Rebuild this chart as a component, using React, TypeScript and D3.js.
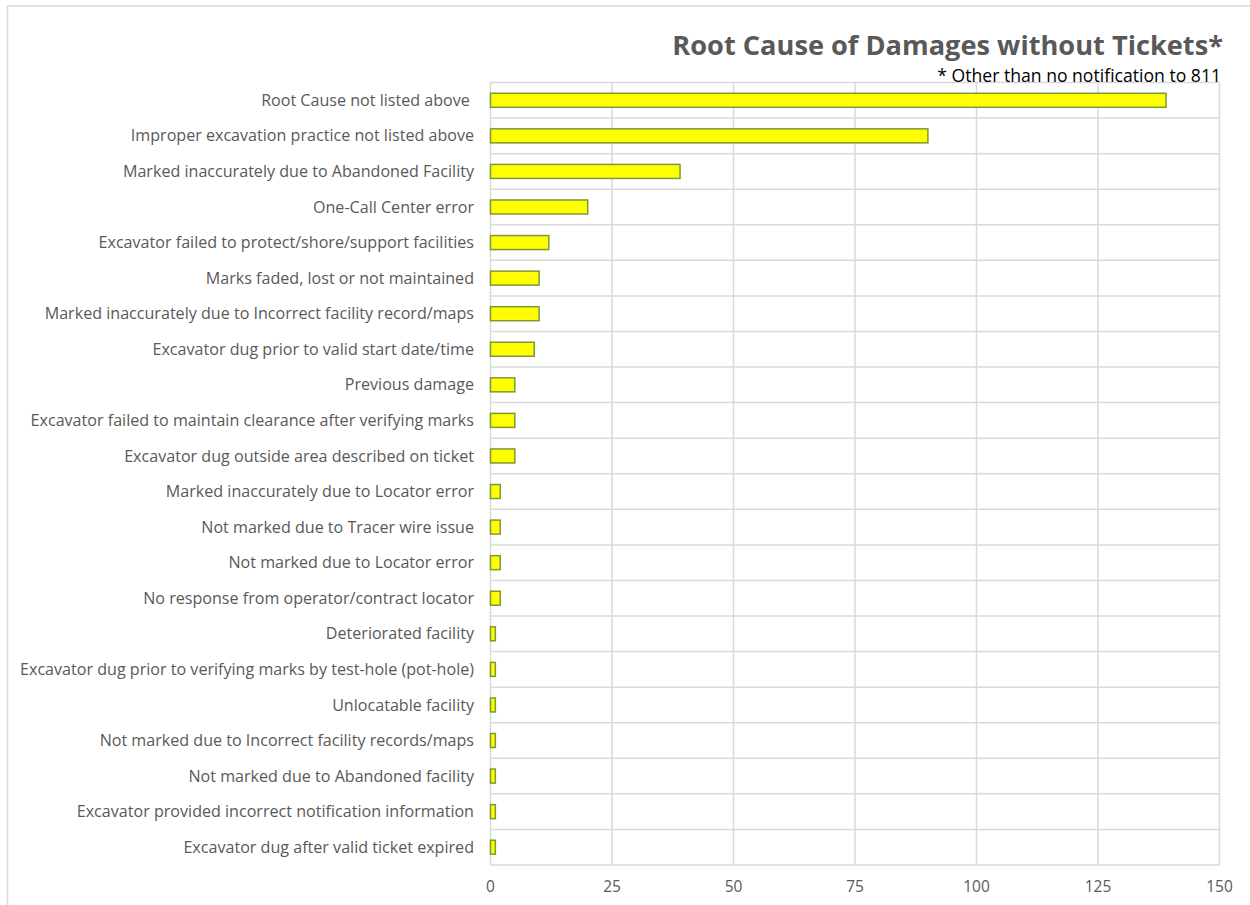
import React from "react";
import * as d3 from "d3";

const categories: string[] = [
  "Root Cause not listed above ",
  "Improper excavation practice not listed above",
  "Marked inaccurately due to Abandoned Facility",
  "One-Call Center error",
  "Excavator failed to protect/shore/support facilities",
  "Marks faded, lost or not maintained",
  "Marked inaccurately due to Incorrect facility record/maps",
  "Excavator dug prior to valid start date/time",
  "Previous damage",
  "Excavator failed to maintain clearance after verifying marks",
  "Excavator dug outside area described on ticket",
  "Marked inaccurately due to Locator error",
  "Not marked due to Tracer wire issue",
  "Not marked due to Locator error",
  "No response from operator/contract locator",
  "Deteriorated facility",
  "Excavator dug prior to verifying marks by test-hole (pot-hole)",
  "Unlocatable facility",
  "Not marked due to Incorrect facility records/maps",
  "Not marked due to Abandoned facility",
  "Excavator provided incorrect notification information",
  "Excavator dug after valid ticket expired",
];

const values: number[] = [139, 90, 39, 20, 12, 10, 10, 9, 5, 5, 5, 2, 2, 2, 2, 1, 1, 1, 1, 1, 1, 1];

const xTicks: number[] = [0, 25, 50, 75, 100, 125, 150];

const title = "Root Cause of Damages without Tickets*";
const subtitle = "* Other than no notification to 811";

export default function App() {
  const W = 1250;
  const H = 905;
  const left = 490.5;
  const right = 1219.5;
  const top = 82.5;
  const bottom = 865;

  const x = d3.scaleLinear().domain([0, 150]).range([left, right]);
  const y = d3.scaleBand<string>().domain(categories).range([top, bottom]).paddingInner(0).paddingOuter(0);
  const bw = y.bandwidth();
  const barH = 14;
  const font = "'Open Sans', sans-serif";
  const grid = "#d9d9d9";
  const textCol = "#595959";

  const boundaries = d3.range(categories.length + 1).map((i) => top + i * bw);

  return (
    <svg
      width={W}
      height={H}
      style={{ position: "absolute", left: 0, top: 0, display: "block" }}
      fontFamily={font}
    >
      <rect x={0} y={0} width={W} height={H} fill="#ffffff" />
      <rect x={7.5} y={6} width={W} height={H} fill="none" stroke="#d9d9d9" strokeWidth={1.5} />

      {boundaries.map((b, i) => (
        <line key={"h" + i} x1={left} x2={right} y1={b} y2={b} stroke={grid} strokeWidth={1.5} />
      ))}
      {xTicks.map((t) => (
        <line key={"v" + t} x1={x(t)} x2={x(t)} y1={top} y2={bottom} stroke={grid} strokeWidth={1.5} />
      ))}

      {categories.map((c, i) => (
        <rect
          key={"b" + i}
          x={x(0)}
          y={(y(c) as number) + bw / 2 - barH / 2}
          width={x(values[i]) - x(0)}
          height={barH}
          fill="#ffff00"
          stroke="#7a9a36"
          strokeWidth={1.5}
        />
      ))}

      {categories.map((c, i) => (
        <text
          key={"l" + i}
          x={474}
          y={(y(c) as number) + bw / 2}
          dy="0.35em"
          textAnchor="end"
          fontSize={16.1}
          fill={textCol}
          xmlSpace="preserve"
        >
          {c}
        </text>
      ))}

      {xTicks.map((t) => (
        <text
          key={"t" + t}
          x={x(t)}
          y={887}
          dy="0.35em"
          textAnchor="middle"
          fontSize={15.5}
          fill={textCol}
        >
          {t}
        </text>
      ))}

      <text x={1223} y={55} textAnchor="end" fontSize={27.2} fontWeight="bold" fill={textCol}>
        {title}
      </text>
      <text x={1221} y={82} textAnchor="end" fontSize={17.6} fill="#000000">
        {subtitle}
      </text>
    </svg>
  );
}
